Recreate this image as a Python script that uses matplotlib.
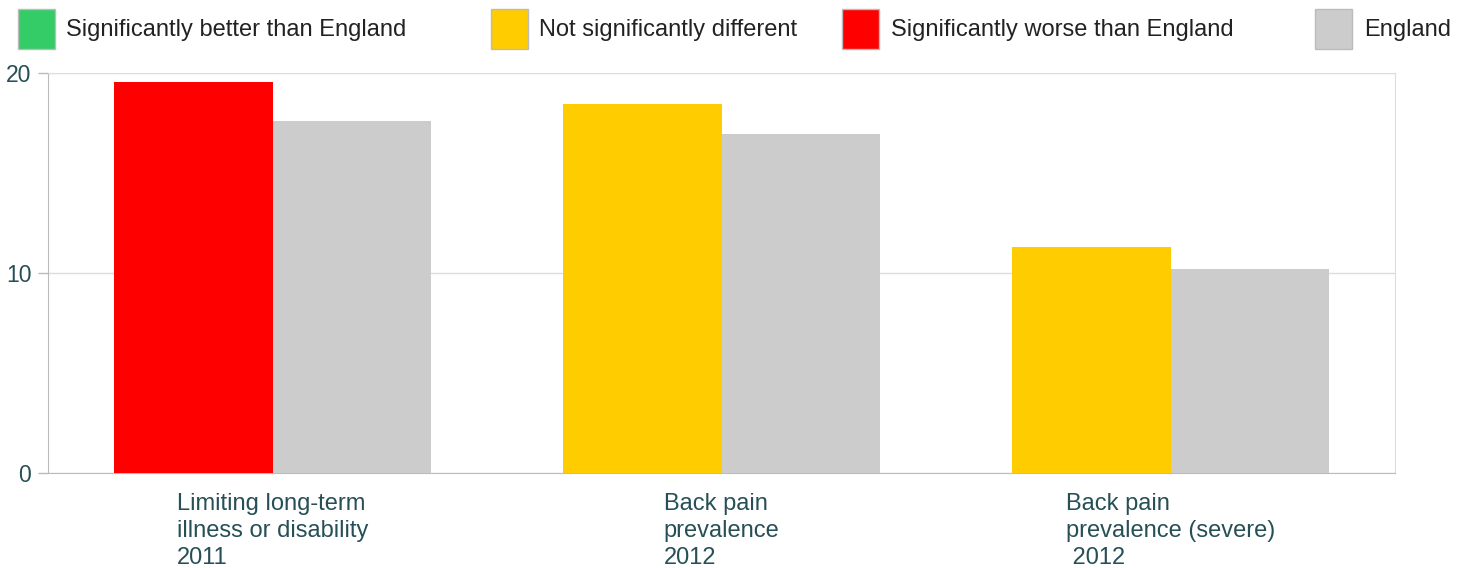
import matplotlib
matplotlib.use("Agg")
import matplotlib.pyplot as plt
import numpy as np
from matplotlib.patches import Rectangle

categories = ["Limiting long-term\nillness or disability\n2011",
              "Back pain\nprevalence\n2012",
              "Back pain\nprevalence (severe)\n 2012"]
area_values = [19.55, 18.45, 11.3]
area_colors = ["#FF0000", "#FFCC00", "#FFCC00"]
england_values = [17.6, 16.95, 10.2]
yticks = [0, 10, 20]
legend_labels = ["Significantly better than England", "Not significantly different",
                 "Significantly worse than England", "England"]
legend_colors = ["#33CC66", "#FFCC00", "#FF0000", "#CCCCCC"]

plt.rcParams['font.family'] = ['Liberation Sans', 'DejaVu Sans']
W, H = 1469, 568
fig = plt.figure(figsize=(W / 100, H / 100), dpi=100)
ax = fig.add_axes([48 / W, 1 - 472.5 / H, (1395 - 48) / W, (472.5 - 73) / H])

x = np.arange(len(categories))
bw = 0.352
ax.bar(x - bw / 2, area_values, bw, color=area_colors, zorder=3)
ax.bar(x + bw / 2, england_values, bw, color="#CCCCCC", zorder=3)

ax.set_xlim(-0.5, len(categories) - 0.5)
ax.set_ylim(0, 20)
ax.set_yticks(yticks)
ax.set_yticklabels([str(t) for t in yticks], fontsize=16.5, color="#264F56")
ax.tick_params(axis='y', length=7, color="#BBBBBB", width=1, pad=5)
ax.set_xticks(x)
ax.set_xticklabels(categories, fontsize=17, color="#264F56", multialignment='left',
                   linespacing=1.27)
ax.tick_params(axis='x', length=0, pad=15)
ax.grid(axis='y', color="#DDDDDD", linewidth=1, zorder=0)
for s in ['top', 'right']:
    ax.spines[s].set_color("#DDDDDD")
for s in ['left', 'bottom']:
    ax.spines[s].set_color("#BBBBBB")

# legend
box_x = [18, 491, 842, 1315]
text_x = [66, 539, 891, 1364]
for bx, tx, lab, col in zip(box_x, text_x, legend_labels, legend_colors):
    fig.patches.append(Rectangle((bx / W, 1 - 49 / H), 37 / W, 40 / H,
                                 transform=fig.transFigure, facecolor=col,
                                 edgecolor="#BBBBBB", linewidth=1))
    fig.text(tx / W, 1 - 30 / H, lab, fontsize=17, color="#222222", va='center', ha='left')

fig.savefig("out.png", dpi=100)
